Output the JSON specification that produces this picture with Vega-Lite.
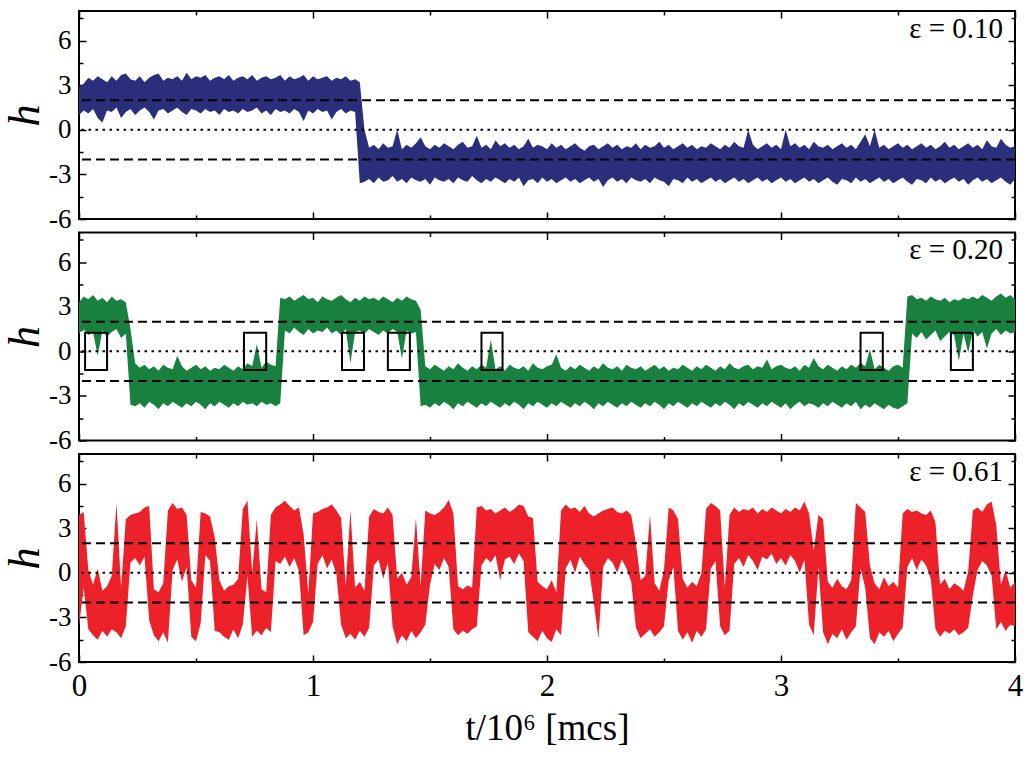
{
  "$schema": "https://vega.github.io/schema/vega-lite/v6.json",
  "description": "Time series of h for three values of epsilon",
  "background": "white",
  "padding": {"left": 2, "top": 3, "right": 8, "bottom": 5},
  "spacing": 13.5,
  "bounds": "flush",
  "datasets": {
    "a": [
      {"t":0.00,"lo":1.0,"hi":2.9},{"t":0.02,"lo":1.3,"hi":3.1},{"t":0.04,"lo":1.1,"hi":3.5},{"t":0.06,"lo":1.4,"hi":3.3},{"t":0.08,"lo":0.8,"hi":3.6},
      {"t":0.10,"lo":0.5,"hi":3.4},{"t":0.12,"lo":1.3,"hi":3.2},{"t":0.14,"lo":1.2,"hi":3.6},{"t":0.16,"lo":1.5,"hi":3.3},{"t":0.18,"lo":0.8,"hi":3.7},
      {"t":0.20,"lo":1.2,"hi":3.8},{"t":0.22,"lo":1.4,"hi":3.4},{"t":0.24,"lo":1.0,"hi":3.3},{"t":0.26,"lo":1.3,"hi":3.6},{"t":0.28,"lo":1.5,"hi":3.2},
      {"t":0.30,"lo":1.2,"hi":3.5},{"t":0.32,"lo":0.7,"hi":3.7},{"t":0.34,"lo":1.3,"hi":3.8},{"t":0.36,"lo":1.4,"hi":3.3},{"t":0.38,"lo":1.1,"hi":3.5},
      {"t":0.40,"lo":1.3,"hi":3.4},{"t":0.42,"lo":1.5,"hi":3.6},{"t":0.44,"lo":1.2,"hi":3.3},{"t":0.46,"lo":1.0,"hi":3.85},{"t":0.48,"lo":1.4,"hi":3.4},
      {"t":0.50,"lo":1.3,"hi":3.6},{"t":0.52,"lo":1.1,"hi":3.5},{"t":0.54,"lo":1.4,"hi":3.7},{"t":0.56,"lo":1.2,"hi":3.3},{"t":0.58,"lo":1.3,"hi":3.5},
      {"t":0.60,"lo":1.0,"hi":3.6},{"t":0.62,"lo":1.4,"hi":3.4},{"t":0.64,"lo":1.2,"hi":3.7},{"t":0.66,"lo":1.3,"hi":3.3},{"t":0.68,"lo":1.1,"hi":3.5},
      {"t":0.70,"lo":1.4,"hi":3.6},{"t":0.72,"lo":1.2,"hi":3.4},{"t":0.74,"lo":1.3,"hi":3.7},{"t":0.76,"lo":1.5,"hi":3.3},{"t":0.78,"lo":1.1,"hi":3.5},
      {"t":0.80,"lo":1.3,"hi":3.6},{"t":0.82,"lo":1.0,"hi":3.4},{"t":0.84,"lo":1.4,"hi":3.5},{"t":0.86,"lo":1.2,"hi":3.7},{"t":0.88,"lo":1.3,"hi":3.3},
      {"t":0.90,"lo":1.1,"hi":3.6},{"t":0.92,"lo":1.4,"hi":3.4},{"t":0.94,"lo":1.2,"hi":3.5},{"t":0.96,"lo":0.6,"hi":3.7},{"t":0.98,"lo":1.3,"hi":3.3},
      {"t":1.00,"lo":1.1,"hi":3.6},{"t":1.02,"lo":1.4,"hi":3.4},{"t":1.04,"lo":1.2,"hi":3.5},{"t":1.06,"lo":1.3,"hi":3.6},{"t":1.08,"lo":0.7,"hi":3.3},
      {"t":1.10,"lo":1.2,"hi":3.5},{"t":1.12,"lo":1.4,"hi":3.4},{"t":1.14,"lo":1.1,"hi":3.6},{"t":1.16,"lo":1.3,"hi":3.3},{"t":1.18,"lo":1.2,"hi":3.4},
      {"t":1.20,"lo":-3.6,"hi":3.2},{"t":1.22,"lo":-3.5,"hi":0.0},{"t":1.24,"lo":-3.3,"hi":-1.2},{"t":1.26,"lo":-3.6,"hi":-1.0},{"t":1.28,"lo":-3.2,"hi":-1.3},
      {"t":1.30,"lo":-3.5,"hi":-0.9},{"t":1.32,"lo":-3.4,"hi":-1.2},{"t":1.34,"lo":-3.1,"hi":-1.1},{"t":1.36,"lo":-3.5,"hi":0.0},{"t":1.38,"lo":-3.3,"hi":-1.3},
      {"t":1.40,"lo":-3.6,"hi":-1.0},{"t":1.42,"lo":-3.2,"hi":-1.2},{"t":1.44,"lo":-3.4,"hi":-0.9},{"t":1.46,"lo":-3.5,"hi":-0.5},{"t":1.48,"lo":-3.3,"hi":-1.1},
      {"t":1.50,"lo":-3.7,"hi":-1.3},{"t":1.52,"lo":-3.2,"hi":-1.0},{"t":1.54,"lo":-3.4,"hi":-1.2},{"t":1.56,"lo":-3.5,"hi":-0.9},{"t":1.58,"lo":-3.3,"hi":-1.1},
      {"t":1.60,"lo":-3.6,"hi":-1.3},{"t":1.62,"lo":-3.2,"hi":-1.0},{"t":1.64,"lo":-3.4,"hi":-0.8},{"t":1.66,"lo":-3.5,"hi":-1.2},{"t":1.68,"lo":-3.1,"hi":-1.1},
      {"t":1.70,"lo":-3.4,"hi":-0.4},{"t":1.72,"lo":-3.6,"hi":-1.2},{"t":1.74,"lo":-3.3,"hi":-1.0},{"t":1.76,"lo":-3.5,"hi":-1.3},{"t":1.78,"lo":-3.2,"hi":-0.7},
      {"t":1.80,"lo":-3.4,"hi":-1.1},{"t":1.82,"lo":-3.6,"hi":-0.9},{"t":1.84,"lo":-3.3,"hi":-1.2},{"t":1.86,"lo":-3.5,"hi":-1.0},{"t":1.88,"lo":-3.2,"hi":-1.3},
      {"t":1.90,"lo":-3.8,"hi":-1.1},{"t":1.92,"lo":-3.4,"hi":-0.6},{"t":1.94,"lo":-3.3,"hi":-1.2},{"t":1.96,"lo":-3.6,"hi":-1.0},{"t":1.98,"lo":-3.2,"hi":-1.1},
      {"t":2.00,"lo":-3.5,"hi":-1.3},{"t":2.02,"lo":-3.3,"hi":-0.9},{"t":2.04,"lo":-3.6,"hi":-1.2},{"t":2.06,"lo":-3.4,"hi":-1.0},{"t":2.08,"lo":-3.2,"hi":-1.3},
      {"t":2.10,"lo":-3.5,"hi":-1.1},{"t":2.12,"lo":-3.3,"hi":-0.9},{"t":2.14,"lo":-3.6,"hi":-1.2},{"t":2.16,"lo":-3.4,"hi":-1.4},{"t":2.18,"lo":-3.2,"hi":-1.1},
      {"t":2.20,"lo":-3.5,"hi":-1.0},{"t":2.22,"lo":-3.3,"hi":-1.3},{"t":2.24,"lo":-3.85,"hi":-1.1},{"t":2.26,"lo":-3.4,"hi":-0.9},{"t":2.28,"lo":-3.2,"hi":-1.2},
      {"t":2.30,"lo":-3.5,"hi":-1.0},{"t":2.32,"lo":-3.3,"hi":-1.3},{"t":2.34,"lo":-3.6,"hi":-1.1},{"t":2.36,"lo":-3.2,"hi":-1.2},{"t":2.38,"lo":-3.4,"hi":-0.9},
      {"t":2.40,"lo":-3.5,"hi":-1.3},{"t":2.42,"lo":-3.3,"hi":-1.0},{"t":2.44,"lo":-3.6,"hi":-1.2},{"t":2.46,"lo":-3.2,"hi":-1.1},{"t":2.48,"lo":-3.4,"hi":-0.8},
      {"t":2.50,"lo":-3.5,"hi":-1.2},{"t":2.52,"lo":-3.8,"hi":-1.0},{"t":2.54,"lo":-3.3,"hi":-1.3},{"t":2.56,"lo":-3.4,"hi":-1.1},{"t":2.58,"lo":-3.6,"hi":-0.9},
      {"t":2.60,"lo":-3.2,"hi":-1.2},{"t":2.62,"lo":-3.5,"hi":-1.0},{"t":2.64,"lo":-3.3,"hi":-1.3},{"t":2.66,"lo":-3.6,"hi":-1.1},{"t":2.68,"lo":-3.4,"hi":-1.2},
      {"t":2.70,"lo":-3.2,"hi":-0.9},{"t":2.72,"lo":-3.5,"hi":-1.1},{"t":2.74,"lo":-3.3,"hi":-1.3},{"t":2.76,"lo":-3.6,"hi":-1.0},{"t":2.78,"lo":-3.4,"hi":-1.2},
      {"t":2.80,"lo":-3.2,"hi":-0.8},{"t":2.82,"lo":-3.5,"hi":-1.1},{"t":2.84,"lo":-3.3,"hi":-1.2},{"t":2.86,"lo":-3.6,"hi":0.0},{"t":2.88,"lo":-3.4,"hi":-1.0},
      {"t":2.90,"lo":-3.2,"hi":-1.3},{"t":2.92,"lo":-3.5,"hi":-1.1},{"t":2.94,"lo":-3.3,"hi":-0.9},{"t":2.96,"lo":-3.6,"hi":-1.2},{"t":2.98,"lo":-3.4,"hi":-1.0},
      {"t":3.00,"lo":-3.2,"hi":-1.3},{"t":3.02,"lo":-3.5,"hi":0.0},{"t":3.04,"lo":-3.3,"hi":-1.1},{"t":3.06,"lo":-3.6,"hi":-0.9},{"t":3.08,"lo":-3.4,"hi":-1.2},
      {"t":3.10,"lo":-3.2,"hi":-1.0},{"t":3.12,"lo":-3.5,"hi":-1.3},{"t":3.14,"lo":-3.3,"hi":-0.8},{"t":3.16,"lo":-3.6,"hi":-1.1},{"t":3.18,"lo":-3.4,"hi":-1.2},
      {"t":3.20,"lo":-3.2,"hi":-1.0},{"t":3.22,"lo":-3.5,"hi":-1.3},{"t":3.24,"lo":-3.7,"hi":-1.1},{"t":3.26,"lo":-3.3,"hi":-0.9},{"t":3.28,"lo":-3.4,"hi":-1.2},
      {"t":3.30,"lo":-3.6,"hi":-1.0},{"t":3.32,"lo":-3.2,"hi":-1.3},{"t":3.34,"lo":-3.5,"hi":-0.8},{"t":3.36,"lo":-3.3,"hi":-0.3},{"t":3.38,"lo":-3.6,"hi":-1.1},
      {"t":3.40,"lo":-3.4,"hi":0.0},{"t":3.42,"lo":-3.2,"hi":-1.2},{"t":3.44,"lo":-3.5,"hi":-1.0},{"t":3.46,"lo":-3.3,"hi":-1.3},{"t":3.48,"lo":-3.6,"hi":-1.1},
      {"t":3.50,"lo":-3.4,"hi":-0.9},{"t":3.52,"lo":-3.2,"hi":-1.2},{"t":3.54,"lo":-3.5,"hi":-1.0},{"t":3.56,"lo":-3.7,"hi":-1.3},{"t":3.58,"lo":-3.3,"hi":-1.1},
      {"t":3.60,"lo":-3.4,"hi":-0.9},{"t":3.62,"lo":-3.6,"hi":-1.2},{"t":3.64,"lo":-3.2,"hi":-1.0},{"t":3.66,"lo":-3.5,"hi":-1.3},{"t":3.68,"lo":-3.3,"hi":-1.1},
      {"t":3.70,"lo":-3.6,"hi":-0.8},{"t":3.72,"lo":-3.4,"hi":-1.2},{"t":3.74,"lo":-3.2,"hi":-1.0},{"t":3.76,"lo":-3.5,"hi":-1.3},{"t":3.78,"lo":-3.3,"hi":-1.1},
      {"t":3.80,"lo":-3.7,"hi":-0.9},{"t":3.82,"lo":-3.4,"hi":-1.2},{"t":3.84,"lo":-3.2,"hi":-1.0},{"t":3.86,"lo":-3.5,"hi":-1.3},{"t":3.88,"lo":-3.3,"hi":-0.7},
      {"t":3.90,"lo":-3.6,"hi":-1.1},{"t":3.92,"lo":-3.4,"hi":-1.2},{"t":3.94,"lo":-3.2,"hi":-0.6},{"t":3.96,"lo":-3.5,"hi":-1.0},{"t":3.98,"lo":-3.7,"hi":-1.2},
      {"t":4.00,"lo":-3.3,"hi":-1.1}
    ],
    "b": [
      {"t":0.00,"lo":1.2,"hi":3.3},{"t":0.02,"lo":1.5,"hi":3.7},{"t":0.04,"lo":1.1,"hi":3.5},{"t":0.06,"lo":1.3,"hi":3.8},{"t":0.08,"lo":-0.3,"hi":3.4},
      {"t":0.10,"lo":1.4,"hi":3.6},{"t":0.12,"lo":1.0,"hi":3.3},{"t":0.14,"lo":1.3,"hi":3.7},{"t":0.16,"lo":1.5,"hi":3.4},{"t":0.18,"lo":0.9,"hi":3.5},
      {"t":0.20,"lo":1.2,"hi":3.3},{"t":0.22,"lo":-3.6,"hi":1.5},{"t":0.24,"lo":-3.7,"hi":-0.8},{"t":0.26,"lo":-3.5,"hi":-1.1},{"t":0.28,"lo":-3.8,"hi":-0.9},
      {"t":0.30,"lo":-3.4,"hi":-1.2},{"t":0.32,"lo":-3.6,"hi":-1.0},{"t":0.34,"lo":-3.9,"hi":-1.3},{"t":0.36,"lo":-3.5,"hi":-0.9},{"t":0.38,"lo":-3.7,"hi":-1.1},
      {"t":0.40,"lo":-3.4,"hi":-1.2},{"t":0.42,"lo":-3.6,"hi":-0.3},{"t":0.44,"lo":-3.8,"hi":-1.0},{"t":0.46,"lo":-3.5,"hi":-1.3},{"t":0.48,"lo":-3.7,"hi":-1.1},
      {"t":0.50,"lo":-3.4,"hi":-0.9},{"t":0.52,"lo":-3.6,"hi":-1.2},{"t":0.54,"lo":-3.9,"hi":-1.0},{"t":0.56,"lo":-3.5,"hi":-1.3},{"t":0.58,"lo":-3.7,"hi":-1.1},
      {"t":0.60,"lo":-3.4,"hi":-1.2},{"t":0.62,"lo":-3.6,"hi":-0.9},{"t":0.64,"lo":-3.8,"hi":-1.1},{"t":0.66,"lo":-3.5,"hi":-1.3},{"t":0.68,"lo":-3.7,"hi":-1.0},
      {"t":0.70,"lo":-3.4,"hi":-1.2},{"t":0.72,"lo":-3.6,"hi":-0.8},{"t":0.74,"lo":-3.5,"hi":-1.0},{"t":0.76,"lo":-3.7,"hi":0.5},{"t":0.78,"lo":-3.4,"hi":-1.1},
      {"t":0.80,"lo":-3.6,"hi":-0.7},{"t":0.82,"lo":-3.5,"hi":-0.9},{"t":0.84,"lo":-3.7,"hi":-1.0},{"t":0.86,"lo":-3.5,"hi":3.6},{"t":0.88,"lo":1.4,"hi":3.5},
      {"t":0.90,"lo":1.2,"hi":3.7},{"t":0.92,"lo":1.6,"hi":3.4},{"t":0.94,"lo":1.3,"hi":3.6},{"t":0.96,"lo":1.1,"hi":3.8},{"t":0.98,"lo":1.5,"hi":3.5},
      {"t":1.00,"lo":1.2,"hi":3.6},{"t":1.02,"lo":1.4,"hi":3.3},{"t":1.04,"lo":1.3,"hi":3.7},{"t":1.06,"lo":1.6,"hi":3.5},{"t":1.08,"lo":1.2,"hi":3.4},
      {"t":1.10,"lo":1.4,"hi":3.6},{"t":1.12,"lo":1.1,"hi":3.8},{"t":1.14,"lo":1.5,"hi":3.5},{"t":1.16,"lo":-0.8,"hi":3.3},{"t":1.18,"lo":1.3,"hi":3.6},
      {"t":1.20,"lo":1.4,"hi":3.4},{"t":1.22,"lo":1.2,"hi":3.7},{"t":1.24,"lo":1.5,"hi":3.5},{"t":1.26,"lo":1.3,"hi":3.6},{"t":1.28,"lo":1.1,"hi":3.4},
      {"t":1.30,"lo":1.4,"hi":3.7},{"t":1.32,"lo":1.2,"hi":3.5},{"t":1.34,"lo":1.5,"hi":3.3},{"t":1.36,"lo":1.3,"hi":3.6},{"t":1.38,"lo":-0.5,"hi":3.4},
      {"t":1.40,"lo":1.4,"hi":3.7},{"t":1.42,"lo":1.2,"hi":3.5},{"t":1.44,"lo":1.3,"hi":3.4},{"t":1.46,"lo":-3.7,"hi":2.8},{"t":1.48,"lo":-3.6,"hi":-1.0},
      {"t":1.50,"lo":-3.8,"hi":-1.2},{"t":1.52,"lo":-3.5,"hi":-0.9},{"t":1.54,"lo":-3.7,"hi":-1.1},{"t":1.56,"lo":-3.4,"hi":-1.3},{"t":1.58,"lo":-3.6,"hi":-1.0},
      {"t":1.60,"lo":-3.9,"hi":-1.2},{"t":1.62,"lo":-3.5,"hi":-0.8},{"t":1.64,"lo":-3.7,"hi":-1.1},{"t":1.66,"lo":-3.4,"hi":-1.3},{"t":1.68,"lo":-3.6,"hi":-1.0},
      {"t":1.70,"lo":-3.8,"hi":-1.2},{"t":1.72,"lo":-3.5,"hi":-0.9},{"t":1.74,"lo":-3.7,"hi":-1.1},{"t":1.76,"lo":-3.4,"hi":0.8},{"t":1.78,"lo":-3.6,"hi":-1.2},
      {"t":1.80,"lo":-3.8,"hi":-1.0},{"t":1.82,"lo":-3.5,"hi":-1.3},{"t":1.84,"lo":-3.7,"hi":-0.9},{"t":1.86,"lo":-3.4,"hi":-1.1},{"t":1.88,"lo":-3.6,"hi":-1.2},
      {"t":1.90,"lo":-3.9,"hi":-1.0},{"t":1.92,"lo":-3.5,"hi":-1.3},{"t":1.94,"lo":-3.7,"hi":-0.8},{"t":1.96,"lo":-3.4,"hi":-1.1},{"t":1.98,"lo":-3.6,"hi":-1.2},
      {"t":2.00,"lo":-3.8,"hi":-1.0},{"t":2.02,"lo":-3.5,"hi":-0.9},{"t":2.04,"lo":-3.7,"hi":-0.2},{"t":2.06,"lo":-3.4,"hi":-1.1},{"t":2.08,"lo":-3.6,"hi":-1.3},
      {"t":2.10,"lo":-3.8,"hi":-1.0},{"t":2.12,"lo":-3.5,"hi":-1.2},{"t":2.14,"lo":-3.7,"hi":-0.9},{"t":2.16,"lo":-3.4,"hi":-1.1},{"t":2.18,"lo":-3.6,"hi":-1.3},
      {"t":2.20,"lo":-3.9,"hi":-1.0},{"t":2.22,"lo":-3.5,"hi":-1.2},{"t":2.24,"lo":-3.7,"hi":-0.8},{"t":2.26,"lo":-3.4,"hi":-1.1},{"t":2.28,"lo":-3.6,"hi":-1.2},
      {"t":2.30,"lo":-3.8,"hi":-1.0},{"t":2.32,"lo":-3.5,"hi":-1.3},{"t":2.34,"lo":-3.7,"hi":-0.9},{"t":2.36,"lo":-3.4,"hi":-1.1},{"t":2.38,"lo":-3.6,"hi":-1.2},
      {"t":2.40,"lo":-3.8,"hi":-1.0},{"t":2.42,"lo":-3.5,"hi":-1.3},{"t":2.44,"lo":-3.7,"hi":-1.1},{"t":2.46,"lo":-3.4,"hi":-0.9},{"t":2.48,"lo":-3.6,"hi":-1.2},
      {"t":2.50,"lo":-3.9,"hi":-1.0},{"t":2.52,"lo":-3.5,"hi":-1.3},{"t":2.54,"lo":-3.7,"hi":-1.1},{"t":2.56,"lo":-3.4,"hi":-1.2},{"t":2.58,"lo":-3.6,"hi":-0.9},
      {"t":2.60,"lo":-3.8,"hi":-1.1},{"t":2.62,"lo":-3.5,"hi":-1.3},{"t":2.64,"lo":-3.7,"hi":-1.0},{"t":2.66,"lo":-3.4,"hi":-1.2},{"t":2.68,"lo":-3.6,"hi":-0.9},
      {"t":2.70,"lo":-3.8,"hi":-1.1},{"t":2.72,"lo":-3.5,"hi":-1.3},{"t":2.74,"lo":-3.7,"hi":-1.0},{"t":2.76,"lo":-3.4,"hi":-1.2},{"t":2.78,"lo":-3.6,"hi":-0.8},
      {"t":2.80,"lo":-3.9,"hi":-1.1},{"t":2.82,"lo":-3.5,"hi":-1.2},{"t":2.84,"lo":-3.7,"hi":-1.0},{"t":2.86,"lo":-3.4,"hi":-0.9},{"t":2.88,"lo":-3.6,"hi":-1.2},
      {"t":2.90,"lo":-3.8,"hi":-1.0},{"t":2.92,"lo":-3.5,"hi":-1.1},{"t":2.94,"lo":-3.7,"hi":-0.55},{"t":2.96,"lo":-3.4,"hi":-1.2},{"t":2.98,"lo":-3.6,"hi":-1.0},
      {"t":3.00,"lo":-3.8,"hi":-0.9},{"t":3.02,"lo":-3.5,"hi":-1.1},{"t":3.04,"lo":-3.9,"hi":-1.2},{"t":3.06,"lo":-3.6,"hi":-1.0},{"t":3.08,"lo":-3.4,"hi":-1.3},
      {"t":3.10,"lo":-3.7,"hi":-0.9},{"t":3.12,"lo":-3.5,"hi":-1.1},{"t":3.14,"lo":-3.6,"hi":-0.45},{"t":3.16,"lo":-3.8,"hi":-1.0},{"t":3.18,"lo":-3.5,"hi":-1.2},
      {"t":3.20,"lo":-3.7,"hi":-0.9},{"t":3.22,"lo":-3.4,"hi":-1.1},{"t":3.24,"lo":-3.6,"hi":-1.3},{"t":3.26,"lo":-3.8,"hi":-1.0},{"t":3.28,"lo":-3.5,"hi":-1.2},
      {"t":3.30,"lo":-3.7,"hi":-0.9},{"t":3.32,"lo":-3.4,"hi":-1.1},{"t":3.34,"lo":-3.9,"hi":-0.8},{"t":3.36,"lo":-3.6,"hi":-1.0},{"t":3.38,"lo":-3.8,"hi":0.15},
      {"t":3.40,"lo":-3.5,"hi":-1.2},{"t":3.42,"lo":-3.7,"hi":-0.9},{"t":3.44,"lo":-3.9,"hi":-1.1},{"t":3.46,"lo":-3.6,"hi":-1.3},{"t":3.48,"lo":-3.8,"hi":-1.0},
      {"t":3.50,"lo":-3.9,"hi":-0.9},{"t":3.52,"lo":-3.7,"hi":-1.1},{"t":3.54,"lo":-3.5,"hi":3.7},{"t":3.56,"lo":1.2,"hi":3.8},{"t":3.58,"lo":0.9,"hi":3.5},
      {"t":3.60,"lo":1.3,"hi":3.6},{"t":3.62,"lo":0.8,"hi":3.4},{"t":3.64,"lo":1.1,"hi":3.7},{"t":3.66,"lo":1.4,"hi":3.5},{"t":3.68,"lo":0.7,"hi":3.4},
      {"t":3.70,"lo":1.0,"hi":3.6},{"t":3.72,"lo":1.3,"hi":3.3},{"t":3.74,"lo":1.1,"hi":3.5},{"t":3.76,"lo":-0.65,"hi":3.4},{"t":3.78,"lo":1.2,"hi":3.6},
      {"t":3.80,"lo":-0.1,"hi":3.5},{"t":3.82,"lo":1.4,"hi":3.7},{"t":3.84,"lo":1.0,"hi":3.5},{"t":3.86,"lo":1.3,"hi":3.8},{"t":3.88,"lo":0.2,"hi":3.6},
      {"t":3.90,"lo":1.2,"hi":3.4},{"t":3.92,"lo":1.5,"hi":3.7},{"t":3.94,"lo":1.1,"hi":3.9},{"t":3.96,"lo":1.4,"hi":3.6},{"t":3.98,"lo":1.2,"hi":3.8},
      {"t":4.00,"lo":1.3,"hi":3.5}
    ],
    "c": [
      {"t":0.00,"lo":-3.6,"hi":3.9},{"t":0.02,"lo":-1.0,"hi":4.1},{"t":0.04,"lo":-3.8,"hi":0.2},{"t":0.06,"lo":-4.2,"hi":-0.8},{"t":0.08,"lo":-4.5,"hi":0.3},
      {"t":0.10,"lo":-3.9,"hi":-1.2},{"t":0.12,"lo":-4.3,"hi":-0.9},{"t":0.14,"lo":-3.8,"hi":-0.2},{"t":0.16,"lo":-4.0,"hi":4.7},{"t":0.18,"lo":-4.4,"hi":-1.0},
      {"t":0.20,"lo":-3.6,"hi":3.6},{"t":0.22,"lo":0.7,"hi":3.9},{"t":0.24,"lo":1.0,"hi":4.0},{"t":0.26,"lo":0.5,"hi":4.1},{"t":0.28,"lo":1.1,"hi":4.4},
      {"t":0.30,"lo":-3.2,"hi":4.5},{"t":0.32,"lo":-4.2,"hi":-1.1},{"t":0.34,"lo":-4.6,"hi":-1.3},{"t":0.36,"lo":-4.0,"hi":-0.7},{"t":0.38,"lo":-4.7,"hi":4.2},
      {"t":0.40,"lo":0.2,"hi":4.7},{"t":0.42,"lo":0.9,"hi":4.3},{"t":0.44,"lo":-0.6,"hi":4.4},{"t":0.46,"lo":0.4,"hi":3.9},{"t":0.48,"lo":-4.3,"hi":-0.5},
      {"t":0.50,"lo":-4.6,"hi":-1.0},{"t":0.52,"lo":-3.4,"hi":4.1},{"t":0.54,"lo":1.2,"hi":4.0},{"t":0.56,"lo":0.8,"hi":3.8},{"t":0.58,"lo":-3.9,"hi":2.4},
      {"t":0.60,"lo":-4.0,"hi":-0.5},{"t":0.62,"lo":-4.3,"hi":-1.2},{"t":0.64,"lo":-4.5,"hi":-0.9},{"t":0.66,"lo":-3.8,"hi":-0.8},{"t":0.68,"lo":-4.4,"hi":-0.4},
      {"t":0.70,"lo":-3.5,"hi":4.3},{"t":0.72,"lo":-0.2,"hi":4.85},{"t":0.74,"lo":-4.3,"hi":0.0},{"t":0.76,"lo":-3.9,"hi":3.6},{"t":0.78,"lo":-4.2,"hi":-1.1},
      {"t":0.80,"lo":-3.7,"hi":-1.3},{"t":0.82,"lo":-4.0,"hi":3.9},{"t":0.84,"lo":0.8,"hi":4.4},{"t":0.86,"lo":0.6,"hi":4.6},{"t":0.88,"lo":1.1,"hi":4.85},
      {"t":0.90,"lo":0.4,"hi":4.5},{"t":0.92,"lo":1.0,"hi":4.2},{"t":0.94,"lo":0.1,"hi":4.4},{"t":0.96,"lo":-4.2,"hi":2.6},{"t":0.98,"lo":-4.0,"hi":-1.4},
      {"t":1.00,"lo":-3.3,"hi":4.0},{"t":1.02,"lo":0.6,"hi":4.1},{"t":1.04,"lo":1.2,"hi":4.3},{"t":1.06,"lo":0.3,"hi":4.4},{"t":1.08,"lo":0.9,"hi":4.6},
      {"t":1.10,"lo":-0.1,"hi":4.2},{"t":1.12,"lo":-3.5,"hi":3.7},{"t":1.14,"lo":-4.4,"hi":-0.9},{"t":1.16,"lo":-4.1,"hi":4.2},{"t":1.18,"lo":-4.5,"hi":-1.0},
      {"t":1.20,"lo":-3.9,"hi":-0.6},{"t":1.22,"lo":-4.3,"hi":-1.2},{"t":1.24,"lo":-3.7,"hi":3.8},{"t":1.26,"lo":0.5,"hi":4.3},{"t":1.28,"lo":0.9,"hi":4.1},
      {"t":1.30,"lo":-0.4,"hi":4.0},{"t":1.32,"lo":0.7,"hi":4.4},{"t":1.34,"lo":-3.6,"hi":3.9},{"t":1.36,"lo":-4.8,"hi":-0.4},{"t":1.38,"lo":-4.2,"hi":0.0},
      {"t":1.40,"lo":-4.6,"hi":-0.8},{"t":1.42,"lo":-3.9,"hi":-0.3},{"t":1.44,"lo":-4.4,"hi":3.7},{"t":1.46,"lo":-4.0,"hi":-0.9},{"t":1.48,"lo":-3.5,"hi":4.2},
      {"t":1.50,"lo":-0.8,"hi":4.0},{"t":1.52,"lo":0.6,"hi":3.9},{"t":1.54,"lo":0.2,"hi":4.1},{"t":1.56,"lo":1.0,"hi":4.4},{"t":1.58,"lo":0.4,"hi":4.9},
      {"t":1.60,"lo":-3.8,"hi":4.0},{"t":1.62,"lo":-4.2,"hi":-0.9},{"t":1.64,"lo":-3.9,"hi":-1.1},{"t":1.66,"lo":-4.1,"hi":-0.85},{"t":1.68,"lo":-3.8,"hi":-1.0},
      {"t":1.70,"lo":-3.6,"hi":4.4},{"t":1.72,"lo":0.5,"hi":4.5},{"t":1.74,"lo":1.0,"hi":4.2},{"t":1.76,"lo":0.7,"hi":4.3},{"t":1.78,"lo":1.2,"hi":4.0},
      {"t":1.80,"lo":-0.5,"hi":4.2},{"t":1.82,"lo":0.9,"hi":4.4},{"t":1.84,"lo":1.1,"hi":4.1},{"t":1.86,"lo":0.6,"hi":4.3},{"t":1.88,"lo":1.3,"hi":4.6},
      {"t":1.90,"lo":0.8,"hi":4.5},{"t":1.92,"lo":-4.0,"hi":3.8},{"t":1.94,"lo":-4.3,"hi":3.7},{"t":1.96,"lo":-4.6,"hi":-0.6},{"t":1.98,"lo":-3.9,"hi":-0.9},
      {"t":2.00,"lo":-4.4,"hi":-1.1},{"t":2.02,"lo":-4.65,"hi":-0.5},{"t":2.04,"lo":-3.8,"hi":-1.3},{"t":2.06,"lo":-4.2,"hi":4.2},{"t":2.08,"lo":0.3,"hi":4.6},
      {"t":2.10,"lo":0.9,"hi":4.3},{"t":2.12,"lo":0.0,"hi":4.4},{"t":2.14,"lo":1.1,"hi":4.1},{"t":2.16,"lo":0.6,"hi":4.5},{"t":2.18,"lo":0.2,"hi":4.0},
      {"t":2.20,"lo":-2.0,"hi":3.8},{"t":2.22,"lo":-4.4,"hi":4.0},{"t":2.24,"lo":0.4,"hi":4.2},{"t":2.26,"lo":1.0,"hi":4.3},{"t":2.28,"lo":0.7,"hi":4.4},
      {"t":2.30,"lo":0.0,"hi":4.1},{"t":2.32,"lo":0.9,"hi":4.0},{"t":2.34,"lo":0.3,"hi":4.2},{"t":2.36,"lo":-0.6,"hi":3.9},{"t":2.38,"lo":-3.7,"hi":2.0},
      {"t":2.40,"lo":-4.4,"hi":-0.5},{"t":2.42,"lo":-4.1,"hi":-0.2},{"t":2.44,"lo":-3.8,"hi":3.9},{"t":2.46,"lo":-4.3,"hi":-0.7},{"t":2.48,"lo":-4.0,"hi":-1.2},
      {"t":2.50,"lo":-3.6,"hi":0.2},{"t":2.52,"lo":-0.5,"hi":4.4},{"t":2.54,"lo":0.4,"hi":4.2},{"t":2.56,"lo":-3.9,"hi":3.6},{"t":2.58,"lo":-4.5,"hi":-0.4},
      {"t":2.60,"lo":-4.0,"hi":-1.0},{"t":2.62,"lo":-4.7,"hi":-0.6},{"t":2.64,"lo":-3.9,"hi":-0.9},{"t":2.66,"lo":-4.3,"hi":0.0},{"t":2.68,"lo":-3.8,"hi":4.3},
      {"t":2.70,"lo":0.3,"hi":4.7},{"t":2.72,"lo":0.8,"hi":4.5},{"t":2.74,"lo":-3.6,"hi":4.2},{"t":2.76,"lo":-4.2,"hi":-1.0},{"t":2.78,"lo":-3.9,"hi":3.9},
      {"t":2.80,"lo":0.6,"hi":4.4},{"t":2.82,"lo":1.0,"hi":4.1},{"t":2.84,"lo":0.4,"hi":4.3},{"t":2.86,"lo":1.2,"hi":4.2},{"t":2.88,"lo":0.8,"hi":4.4},
      {"t":2.90,"lo":0.2,"hi":4.0},{"t":2.92,"lo":1.1,"hi":4.3},{"t":2.94,"lo":0.9,"hi":4.1},{"t":2.96,"lo":1.3,"hi":4.4},{"t":2.98,"lo":0.6,"hi":4.2},
      {"t":3.00,"lo":1.0,"hi":4.0},{"t":3.02,"lo":0.5,"hi":4.3},{"t":3.04,"lo":1.2,"hi":4.1},{"t":3.06,"lo":0.8,"hi":4.4},{"t":3.08,"lo":0.0,"hi":4.2},
      {"t":3.10,"lo":0.9,"hi":4.8},{"t":3.12,"lo":-3.5,"hi":4.0},{"t":3.14,"lo":-4.2,"hi":1.5},{"t":3.16,"lo":0.4,"hi":3.9},{"t":3.18,"lo":-4.0,"hi":3.6},
      {"t":3.20,"lo":-4.8,"hi":-0.6},{"t":3.22,"lo":-4.1,"hi":-1.0},{"t":3.24,"lo":-4.4,"hi":-0.4},{"t":3.26,"lo":-3.8,"hi":-0.9},{"t":3.28,"lo":-4.5,"hi":-1.1},
      {"t":3.30,"lo":-4.0,"hi":-0.5},{"t":3.32,"lo":-3.6,"hi":4.7},{"t":3.34,"lo":0.3,"hi":4.4},{"t":3.36,"lo":-1.0,"hi":4.1},{"t":3.38,"lo":-4.4,"hi":0.5},
      {"t":3.40,"lo":-4.8,"hi":-0.7},{"t":3.42,"lo":-4.0,"hi":-1.1},{"t":3.44,"lo":-4.3,"hi":-0.3},{"t":3.46,"lo":-3.9,"hi":-0.9},{"t":3.48,"lo":-4.6,"hi":-0.6},
      {"t":3.50,"lo":-4.1,"hi":-1.0},{"t":3.52,"lo":-3.7,"hi":4.0},{"t":3.54,"lo":0.4,"hi":4.3},{"t":3.56,"lo":1.0,"hi":4.1},{"t":3.58,"lo":0.2,"hi":4.2},
      {"t":3.60,"lo":0.9,"hi":4.0},{"t":3.62,"lo":0.5,"hi":3.9},{"t":3.64,"lo":-0.4,"hi":4.2},{"t":3.66,"lo":-3.8,"hi":3.4},{"t":3.68,"lo":-4.3,"hi":-0.8},
      {"t":3.70,"lo":-3.9,"hi":-0.4},{"t":3.72,"lo":-4.1,"hi":-1.1},{"t":3.74,"lo":-3.8,"hi":-0.7},{"t":3.76,"lo":-4.2,"hi":-0.9},{"t":3.78,"lo":-4.0,"hi":-1.2},
      {"t":3.80,"lo":-3.7,"hi":0.1},{"t":3.82,"lo":-1.5,"hi":4.2},{"t":3.84,"lo":0.2,"hi":4.4},{"t":3.86,"lo":0.8,"hi":4.1},{"t":3.88,"lo":0.5,"hi":4.6},
      {"t":3.90,"lo":-0.2,"hi":4.8},{"t":3.92,"lo":-3.8,"hi":3.2},{"t":3.94,"lo":-3.3,"hi":-0.8},{"t":3.96,"lo":-3.9,"hi":0.2},{"t":3.98,"lo":-3.5,"hi":-1.0},
      {"t":4.00,"lo":-3.6,"hi":-0.6}
    ],
    "boxes": [
      {"x1":0.026,"x2":0.12,"y1":-1.25,"y2":1.25},
      {"x1":0.705,"x2":0.80,"y1":-1.25,"y2":1.25},
      {"x1":1.124,"x2":1.218,"y1":-1.25,"y2":1.25},
      {"x1":1.32,"x2":1.414,"y1":-1.25,"y2":1.25},
      {"x1":1.72,"x2":1.81,"y1":-1.25,"y2":1.25},
      {"x1":3.34,"x2":3.435,"y1":-1.25,"y2":1.25},
      {"x1":3.726,"x2":3.82,"y1":-1.25,"y2":1.25}
    ],
    "dash": [{"v": 2}, {"v": -2}],
    "zero": [{"v": 0}]
  },
  "vconcat": [
    {
      "width": 936,
      "height": 208,
      "layer": [
        {
          "data": {"name": "a"},
          "mark": {"type": "area", "color": "#2B2E7A"},
          "encoding": {
            "x": {"field": "t", "type": "quantitative", "scale": {"domain": [0, 4], "nice": false},
              "axis": {"orient": "bottom", "values": [0, 0.5, 1, 1.5, 2, 2.5, 3, 3.5, 4], "labels": false, "title": null,
                "tickSize": {"condition": {"test": "datum.value % 1 === 0", "value": -7}, "value": -4}}},
            "y": {"field": "lo", "type": "quantitative", "scale": {"domain": [-6, 8], "nice": false},
              "axis": {"orient": "left", "values": [-6, -4.5, -3, -1.5, 0, 1.5, 3, 4.5, 6, 7.5], "title": "h",
                "labelPadding": 15, "titlePadding": 1, "titleFontSize": 44, "titleFontStyle": "italic",
                "labelExpr": "datum.value % 3 === 0 ? '' + datum.value : ''",
                "tickSize": {"condition": {"test": "datum.value % 3 === 0", "value": -7}, "value": -4}}},
            "y2": {"field": "hi"}
          }
        },
        {
          "data": {"name": "a"},
          "mark": {"type": "point", "opacity": 0},
          "encoding": {
            "x": {"field": "t", "type": "quantitative", "scale": {"domain": [0, 4], "nice": false},
              "axis": {"orient": "top", "values": [0, 0.5, 1, 1.5, 2, 2.5, 3, 3.5, 4], "labels": false, "title": null,
                "tickSize": {"condition": {"test": "datum.value % 1 === 0", "value": -7}, "value": -4}}},
            "y": {"field": "hi", "type": "quantitative", "scale": {"domain": [-6, 8], "nice": false},
              "axis": {"orient": "right", "values": [-6, -4.5, -3, -1.5, 0, 1.5, 3, 4.5, 6, 7.5], "labels": false, "title": null,
                "tickSize": {"condition": {"test": "datum.value % 3 === 0", "value": -7}, "value": -4}}}
          }
        },
        {
          "data": {"name": "dash"},
          "mark": {"type": "rule", "color": "black", "strokeWidth": 2, "strokeDash": [9, 5]},
          "encoding": {"y": {"field": "v", "type": "quantitative", "axis": null}}
        },
        {
          "data": {"name": "zero"},
          "mark": {"type": "rule", "color": "black", "strokeWidth": 2, "strokeDash": [2.5, 4.5]},
          "encoding": {"y": {"field": "v", "type": "quantitative", "axis": null}}
        },
        {
          "data": {"values": [{"s": "ε = 0.10"}]},
          "mark": {"type": "text", "align": "right", "baseline": "alphabetic", "dx": -12, "fontSize": 29, "font": "Liberation Serif", "color": "black"},
          "encoding": {
            "text": {"field": "s"},
            "x": {"datum": 4, "axis": null},
            "y": {"datum": 6.2, "axis": null}
          }
        }
      ],
      "resolve": {"axis": {"x": "independent", "y": "independent"}}
    },
    {
      "width": 936,
      "height": 208,
      "layer": [
        {
          "data": {"name": "b"},
          "mark": {"type": "area", "color": "#18813F"},
          "encoding": {
            "x": {"field": "t", "type": "quantitative", "scale": {"domain": [0, 4], "nice": false},
              "axis": {"orient": "bottom", "values": [0, 0.5, 1, 1.5, 2, 2.5, 3, 3.5, 4], "labels": false, "title": null,
                "tickSize": {"condition": {"test": "datum.value % 1 === 0", "value": -7}, "value": -4}}},
            "y": {"field": "lo", "type": "quantitative", "scale": {"domain": [-6, 8], "nice": false},
              "axis": {"orient": "left", "values": [-6, -4.5, -3, -1.5, 0, 1.5, 3, 4.5, 6, 7.5], "title": "h",
                "labelPadding": 15, "titlePadding": 1, "titleFontSize": 44, "titleFontStyle": "italic",
                "labelExpr": "datum.value % 3 === 0 ? '' + datum.value : ''",
                "tickSize": {"condition": {"test": "datum.value % 3 === 0", "value": -7}, "value": -4}}},
            "y2": {"field": "hi"}
          }
        },
        {
          "data": {"name": "b"},
          "mark": {"type": "point", "opacity": 0},
          "encoding": {
            "x": {"field": "t", "type": "quantitative", "scale": {"domain": [0, 4], "nice": false},
              "axis": {"orient": "top", "values": [0, 0.5, 1, 1.5, 2, 2.5, 3, 3.5, 4], "labels": false, "title": null,
                "tickSize": {"condition": {"test": "datum.value % 1 === 0", "value": -7}, "value": -4}}},
            "y": {"field": "hi", "type": "quantitative", "scale": {"domain": [-6, 8], "nice": false},
              "axis": {"orient": "right", "values": [-6, -4.5, -3, -1.5, 0, 1.5, 3, 4.5, 6, 7.5], "labels": false, "title": null,
                "tickSize": {"condition": {"test": "datum.value % 3 === 0", "value": -7}, "value": -4}}}
          }
        },
        {
          "data": {"name": "dash"},
          "mark": {"type": "rule", "color": "black", "strokeWidth": 2, "strokeDash": [9, 5]},
          "encoding": {"y": {"field": "v", "type": "quantitative", "axis": null}}
        },
        {
          "data": {"name": "zero"},
          "mark": {"type": "rule", "color": "black", "strokeWidth": 2, "strokeDash": [2.5, 4.5]},
          "encoding": {"y": {"field": "v", "type": "quantitative", "axis": null}}
        },
        {
          "data": {"name": "boxes"},
          "mark": {"type": "rect", "fill": null, "fillOpacity": 0, "stroke": "black", "strokeWidth": 2},
          "encoding": {
            "x": {"field": "x1", "type": "quantitative", "axis": null},
            "x2": {"field": "x2"},
            "y": {"field": "y1", "type": "quantitative", "axis": null},
            "y2": {"field": "y2"}
          }
        },
        {
          "data": {"values": [{"s": "ε = 0.20"}]},
          "mark": {"type": "text", "align": "right", "baseline": "alphabetic", "dx": -12, "fontSize": 29, "font": "Liberation Serif", "color": "black"},
          "encoding": {
            "text": {"field": "s"},
            "x": {"datum": 4, "axis": null},
            "y": {"datum": 6.2, "axis": null}
          }
        }
      ],
      "resolve": {"axis": {"x": "independent", "y": "independent"}}
    },
    {
      "width": 936,
      "height": 208,
      "layer": [
        {
          "data": {"name": "c"},
          "mark": {"type": "area", "color": "#EC2129"},
          "encoding": {
            "x": {"field": "t", "type": "quantitative", "scale": {"domain": [0, 4], "nice": false},
              "axis": {"orient": "bottom", "values": [0, 0.5, 1, 1.5, 2, 2.5, 3, 3.5, 4], "title": "t/10⁶ [mcs]",
                "labelExpr": "datum.value % 1 === 0 ? '' + datum.value : ''",
                "tickSize": {"condition": {"test": "datum.value % 1 === 0", "value": -7}, "value": -4}}},
            "y": {"field": "lo", "type": "quantitative", "scale": {"domain": [-6, 8], "nice": false},
              "axis": {"orient": "left", "values": [-6, -4.5, -3, -1.5, 0, 1.5, 3, 4.5, 6, 7.5], "title": "h",
                "labelPadding": 15, "titlePadding": 1, "titleFontSize": 44, "titleFontStyle": "italic",
                "labelExpr": "datum.value % 3 === 0 ? '' + datum.value : ''",
                "tickSize": {"condition": {"test": "datum.value % 3 === 0", "value": -7}, "value": -4}}},
            "y2": {"field": "hi"}
          }
        },
        {
          "data": {"name": "c"},
          "mark": {"type": "point", "opacity": 0},
          "encoding": {
            "x": {"field": "t", "type": "quantitative", "scale": {"domain": [0, 4], "nice": false},
              "axis": {"orient": "top", "values": [0, 0.5, 1, 1.5, 2, 2.5, 3, 3.5, 4], "labels": false, "title": null,
                "tickSize": {"condition": {"test": "datum.value % 1 === 0", "value": -7}, "value": -4}}},
            "y": {"field": "hi", "type": "quantitative", "scale": {"domain": [-6, 8], "nice": false},
              "axis": {"orient": "right", "values": [-6, -4.5, -3, -1.5, 0, 1.5, 3, 4.5, 6, 7.5], "labels": false, "title": null,
                "tickSize": {"condition": {"test": "datum.value % 3 === 0", "value": -7}, "value": -4}}}
          }
        },
        {
          "data": {"name": "dash"},
          "mark": {"type": "rule", "color": "black", "strokeWidth": 2, "strokeDash": [9, 5]},
          "encoding": {"y": {"field": "v", "type": "quantitative", "axis": null}}
        },
        {
          "data": {"name": "zero"},
          "mark": {"type": "rule", "color": "black", "strokeWidth": 2, "strokeDash": [2.5, 4.5]},
          "encoding": {"y": {"field": "v", "type": "quantitative", "axis": null}}
        },
        {
          "data": {"values": [{"s": "ε = 0.61"}]},
          "mark": {"type": "text", "align": "right", "baseline": "alphabetic", "dx": -12, "fontSize": 29, "font": "Liberation Serif", "color": "black"},
          "encoding": {
            "text": {"field": "s"},
            "x": {"datum": 4, "axis": null},
            "y": {"datum": 6.2, "axis": null}
          }
        }
      ],
      "resolve": {"axis": {"x": "independent", "y": "independent"}}
    }
  ],
  "config": {
    "font": "Liberation Serif",
    "view": {"stroke": "black", "strokeWidth": 2},
    "axis": {
      "grid": false,
      "domain": false,
      "tickColor": "black",
      "tickWidth": 1.5,
      "labelColor": "black",
      "labelFont": "Liberation Serif",
      "labelFontSize": 27,
      "labelOverlap": false,
      "labelFlush": false,
      "titleFont": "Liberation Serif",
      "titleColor": "black",
      "titleFontWeight": "normal"
    },
    "axisX": {"labelFontSize": 31, "labelPadding": 16, "titleFontSize": 37, "titlePadding": 6}
  }
}
